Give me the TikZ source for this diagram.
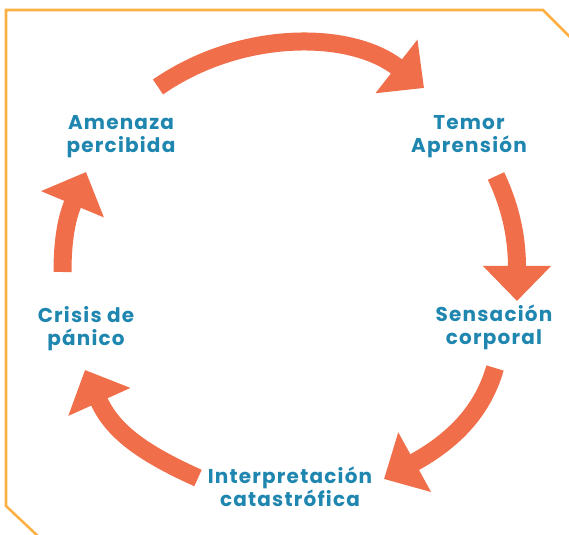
\documentclass[tikz,border=0pt]{standalone}
\usepackage{fontspec}
\setmainfont{Poppins}
\newfontfamily\stagefont[LetterSpace=6]{Poppins}
\usetikzlibrary{arrows.meta}
\definecolor{arrowred}{RGB}{240,110,74}
\definecolor{stageblue}{RGB}{31,134,176}
\definecolor{frameorange}{RGB}{252,176,68}
\begin{document}
\begin{tikzpicture}[x=0.75pt,y=-0.75pt,
    stage/.style={align=center,inner sep=0pt,text=stageblue,
        font=\stagefont\bfseries\fontsize{15}{17.25}\selectfont},
    cyclearrow/.style={draw=arrowred,line width=13.5pt,
        -{Triangle[length=26.25pt 0 0,width=49.5pt 0 0]}}]
    \useasboundingbox (0,0) rectangle (569,535);
    \draw [frameorange,line width=1.9pt] (40,538) -- (6,506) -- (6,10) -- (543,10) -- (572,39);

    \node[stage] (amenaza) at (121,137) {Amenaza\\percibida};
    \node[stage] (temor) at (469,137) {Temor\\Aprensión};
    \node[stage] (sensacion) at (494,327) {Sensación\\corporal};
    \node[stage] (interpretacion) at (290,487) {Interpretación\\catastrófica};
    \node[stage] (crisis) at (86,329) {Crisis de\\pánico};

    \coordinate (amenaza-out) at (158,87);
    \coordinate (temor-in) at (424,88);
    \coordinate (temor-out) at (496,176);
    \coordinate (sensacion-in) at (517,301);
    \coordinate (sensacion-out) at (495,368);
    \coordinate (interpretacion-in) at (384,479);
    \coordinate (interpretacion-out) at (198,478);
    \coordinate (crisis-in) at (85,370);
    \coordinate (crisis-out) at (62.5,272);
    \coordinate (amenaza-in) at (86,172);

    \draw [cyclearrow] (amenaza-out) .. controls (240,30) and (350,30) .. (temor-in);
    \draw [cyclearrow] (temor-out) .. controls (512,210) and (517,240) .. (sensacion-in);
    \draw [cyclearrow] (sensacion-out) .. controls (483,410) and (455,440) .. (interpretacion-in);
    \draw [cyclearrow] (interpretacion-out) .. controls (140,452) and (112,430) .. (crisis-in);
    \draw [cyclearrow] (crisis-out) .. controls (62.5,235) and (68,215) .. (amenaza-in);
\end{tikzpicture}
\end{document}
